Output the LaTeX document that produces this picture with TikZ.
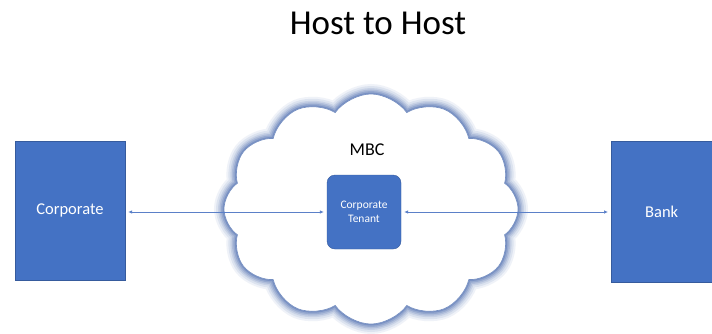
\documentclass[tikz,border=0pt]{standalone}
\usepackage{fontspec}
\setmainfont{Carlito}
\usetikzlibrary{shapes.symbols,arrows.meta}
\definecolor{boxblue}{HTML}{4472C4}
\definecolor{lineblue}{HTML}{5B80C8}
\definecolor{glowblue}{HTML}{3A5FA8}
\tikzset{
  bluebox/.style={fill=boxblue, draw=boxblue!80!black, line width=0.4pt, text=white, font=\fontsize{16.5}{19}\selectfont, inner sep=0pt},
  link/.style={draw=lineblue, line width=0.7pt, shorten <=3pt, shorten >=3pt, {Latex[length=4pt,width=3.5pt]}-{Latex[length=4pt,width=3.5pt]}},
  mycloud/.style={cloud, cloud puffs=12, cloud puff arc=110, aspect=1.35, minimum width=294pt, minimum height=230pt, inner sep=0pt}
}
\begin{document}
\begin{tikzpicture}[x=1pt,y=-1pt]
\useasboundingbox (0,0) rectangle (712,333);
\fill[white] (0,0) rectangle (712,333);
\node[font=\fontsize{35}{40}\selectfont] (title) at (378,23) {Host to Host};
% cloud glow
\foreach \w/\o in {20/0.08,16/0.10,12/0.13,9/0.17,6/0.22,3/0.3}{
  \node[mycloud, draw=glowblue, line width=\w pt, draw opacity=\o] at (371,209) {};
}
\node[mycloud, fill=white, draw=glowblue!70, line width=0.6pt] (cloud) at (371,209) {};
\node[font=\fontsize{18}{21}\selectfont] (mbc) at (367,150) {MBC};
\node[bluebox, minimum width=110pt, minimum height=139pt] (corp) at (70,210.5) {Corporate};
\node[bluebox, minimum width=101pt, minimum height=141pt, anchor=west] (bank) at (611,211.5) {Bank};
\node[bluebox, rounded corners=8pt, minimum width=74pt, minimum height=74pt, align=center, font=\fontsize{11.5}{14}\selectfont] (ten) at (364,212) {Corporate\\Tenant};
\draw[link] (corp.east |- ten.west) -- (ten.west);
\draw[link] (ten.east) -- (bank.west |- ten.east);
\end{tikzpicture}
\end{document}
